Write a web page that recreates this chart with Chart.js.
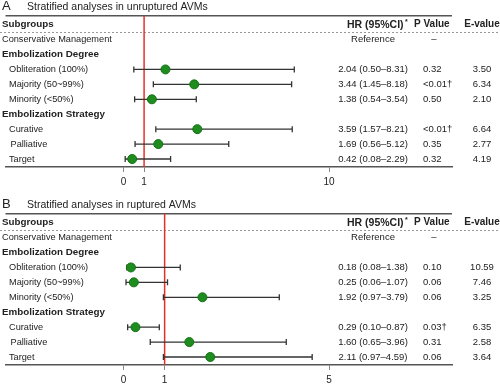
<!DOCTYPE html>
<html>
<head>
<meta charset="utf-8">
<script src="https://cdn.jsdelivr.net/npm/chart.js@4"></script>
<style>
  body { margin: 0; width: 500px; height: 384px; overflow: hidden; background: #fff; }
  canvas { position: absolute; left: 0; }
  #chartA { top: 0; }
  #chartB { top: 198px; }
</style>
</head>
<body>
<canvas id="chartA" width="500" height="192"></canvas>
<canvas id="chartB" width="500" height="192"></canvas>
<script>
// Row labels shared by both panels (row 0 is the header)
const rowLabels = ['Subgroups', 'Conservative Management', 'Embolization Degree',
  'Obliteration (100%)', 'Majority (50~99%)', 'Minority (<50%)',
  'Embolization Strategy', 'Curative', 'Palliative', 'Target'];
const boldRows = [0, 2, 6];
const dataRows = [3, 4, 5, 7, 8, 9];

// Panel A: unruptured AVMs
const hrA = [2.04, 3.44, 1.38, 3.59, 1.69, 0.42];
const lowA = [0.50, 1.45, 0.54, 1.57, 0.56, 0.08];
const highA = [8.31, 8.18, 3.54, 8.21, 5.12, 2.29];
const pA = ['0.32', '<0.01†', '0.50', '<0.01†', '0.35', '0.32'];
const eA = ['3.50', '6.34', '2.10', '6.64', '2.77', '4.19'];
const ticksA = [0, 1, 10];

// Panel B: ruptured AVMs
const hrB = [0.18, 0.25, 1.92, 0.29, 1.60, 2.11];
const lowB = [0.08, 0.06, 0.97, 0.10, 0.65, 0.97];
const highB = [1.38, 1.07, 3.79, 0.87, 3.96, 4.59];
const pB = ['0.10', '0.06', '0.06', '0.03†', '0.31', '0.06'];
const eB = ['10.59', '7.46', '3.25', '6.35', '2.58', '3.64'];
const ticksB = [0, 1, 5];

const FONT = "'Liberation Sans', Arial, sans-serif";
const TEXT = '#222';

function makePanel(id, letter, title, hr, low, high, pv, ev, tickVals, xmin, xmax) {
  const forestPlugin = {
    id: 'forest' + letter,
    beforeDatasetsDraw(chart) {
      const c = chart.ctx, xs = chart.scales.x, ys = chart.scales.y, area = chart.chartArea;
      c.save();
      // top rule
      c.strokeStyle = '#555';
      c.lineWidth = 1.5;
      c.beginPath();
      c.moveTo(area.left, area.top);
      c.lineTo(area.right, area.top);
      c.stroke();
      // dotted rule under the header
      const yd = Math.round(ys.getPixelForValue(0.49)) + 0.5;
      c.strokeStyle = '#999';
      c.lineWidth = 1;
      c.setLineDash([2, 2]);
      c.beginPath();
      c.moveTo(0, yd);
      c.lineTo(chart.width, yd);
      c.stroke();
      c.setLineDash([]);
      // reference line at HR = 1
      const x1 = xs.getPixelForValue(1);
      c.strokeStyle = '#e5302a';
      c.lineWidth = 1.5;
      c.beginPath();
      c.moveTo(x1, area.top);
      c.lineTo(x1, area.bottom);
      c.stroke();
      // confidence intervals
      c.strokeStyle = '#333';
      c.lineWidth = 1.3;
      dataRows.forEach((row, i) => {
        const y = ys.getPixelForValue(row);
        const a = xs.getPixelForValue(low[i]), b = xs.getPixelForValue(high[i]);
        c.beginPath();
        c.moveTo(a, y); c.lineTo(b, y);
        c.moveTo(a, y - 3); c.lineTo(a, y + 3);
        c.moveTo(b, y - 3); c.lineTo(b, y + 3);
        c.stroke();
      });
      c.restore();
    },
    afterDraw(chart) {
      const c = chart.ctx, ys = chart.scales.y;
      c.save();
      c.fillStyle = TEXT;
      c.textBaseline = 'middle';
      // panel title
      c.textAlign = 'left';
      c.font = '13px ' + FONT;
      c.fillText(letter, 2, 6.5);
      c.font = '10.5px ' + FONT;
      c.fillText(title, 27, 7.5);
      // row labels
      rowLabels.forEach((lab, row) => {
        const y = ys.getPixelForValue(row);
        const bold = boldRows.includes(row);
        c.font = (bold ? 'bold 9.8px ' : '9.2px ') + FONT;
        const indent = (row <= 2 || bold) ? 2 : (lab === 'Palliative' ? 10.5 : 9);
        c.fillText(lab, indent, y);
      });
      // header row
      const yh = ys.getPixelForValue(0);
      c.font = 'bold 10.5px ' + FONT;
      c.textAlign = 'left';
      c.fillText('HR (95%CI)', 347, yh);
      const w = c.measureText('HR (95%CI)').width;
      c.font = 'bold 7px ' + FONT;
      c.fillText('*', 347 + w + 1.5, yh - 3);
      c.font = 'bold 10px ' + FONT;
      c.fillText('P Value', 414, yh);
      c.textAlign = 'center';
      c.fillText('E-value', 482, yh);
      // reference row
      const yr = ys.getPixelForValue(1);
      c.font = '9.5px ' + FONT;
      c.fillText('Reference', 373, yr);
      c.fillText('–', 434, yr);
      // values
      dataRows.forEach((row, i) => {
        const y = ys.getPixelForValue(row);
        c.textAlign = 'center';
        c.fillText(hr[i].toFixed(2) + ' (' + low[i].toFixed(2) + '–' + high[i].toFixed(2) + ')', 373, y);
        c.fillText(ev[i], 482, y);
        c.textAlign = 'left';
        c.fillText(pv[i], 423, y);
      });
      c.restore();
    }
  };

  return new Chart(document.getElementById(id), {
    type: 'scatter',
    data: {
      datasets: [{
        data: dataRows.map((row, i) => ({ x: hr[i], y: row })),
        pointRadius: 4.5,
        pointHoverRadius: 4.5,
        backgroundColor: '#1e8c1e',
        borderColor: '#147214',
        borderWidth: 1
      }]
    },
    options: {
      responsive: false,
      animation: false,
      events: [],
      layout: { padding: { left: 0, right: 48, top: 15.7, bottom: 0 } },
      plugins: { legend: { display: false }, tooltip: { enabled: false } },
      scales: {
        x: {
          type: 'linear',
          min: xmin,
          max: xmax,
          afterBuildTicks: (axis) => { axis.ticks = tickVals.map(v => ({ value: v })); },
          grid: { display: true, drawOnChartArea: false, drawTicks: true, tickLength: 5, color: '#888', lineWidth: 1 },
          border: { display: true, color: '#555', width: 1.5 },
          ticks: { color: TEXT, font: { size: 10, family: FONT }, padding: 4, maxRotation: 0 }
        },
        y: {
          type: 'linear',
          reverse: true,
          min: -0.6,
          max: 9.535,
          display: false
        }
      }
    },
    plugins: [forestPlugin]
  });
}

makePanel('chartA', 'A', 'Stratified analyses in unruptured AVMs',
  hrA, lowA, highA, pA, eA, ticksA, -119.5 / 20.8, (452 - 119.5) / 20.8);
makePanel('chartB', 'B', 'Stratified analyses in ruptured AVMs',
  hrB, lowB, highB, pB, eB, ticksB, -119.5 / 41.6, (452 - 119.5) / 41.6);
</script>
</body>
</html>
